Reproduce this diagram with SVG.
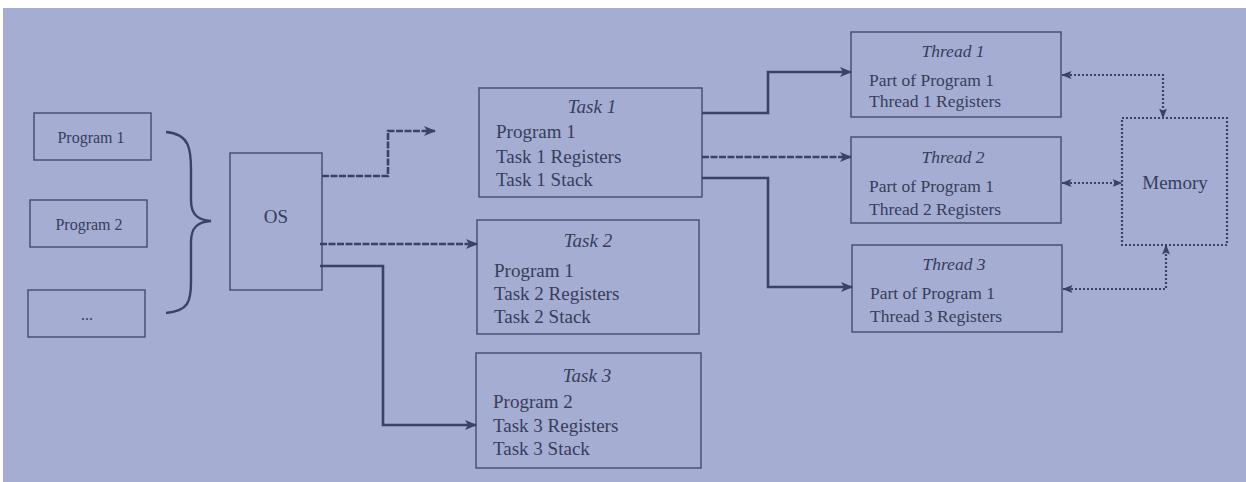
<svg xmlns="http://www.w3.org/2000/svg" width="1246" height="482" viewBox="0 0 1246 482">
<defs>
<style>
.box{fill:none;stroke:#434a6e;stroke-width:1.4}
.t{font-family:"Liberation Serif","Times New Roman",serif;fill:#383d5c;font-size:19px}
.ti{font-style:italic;text-anchor:middle}
.small{font-size:16px}
.th{font-size:17.5px}
.c{fill:none;stroke:#3c4267;stroke-width:2.6}
.d{stroke-dasharray:7 1.5}
.dot{fill:none;stroke:#3c4267;stroke-width:2.2;stroke-dasharray:2 2}
</style>
<marker id="ah" viewBox="0 0 12 10" refX="11" refY="5" markerWidth="12" markerHeight="10" markerUnits="userSpaceOnUse" orient="auto">
<path d="M0,0 L12,5 L0,10 L3,5 Z" fill="#3c4267"/>
</marker>
<marker id="ahs" viewBox="0 0 10 8" refX="9.5" refY="4" markerWidth="10" markerHeight="8" markerUnits="userSpaceOnUse" orient="auto-start-reverse">
<path d="M0,0 L10,4 L0,8 L2,4 Z" fill="#3c4267"/>
</marker>
</defs>
<rect x="0" y="0" width="1246" height="482" fill="#ffffff"/>
<rect x="3" y="8" width="1243" height="474" fill="#a5add2"/>

<g id="program1"><rect class="box" x="34" y="113" width="117" height="47"/><text class="t small" x="91" y="143" text-anchor="middle">Program 1</text></g>
<g id="program2"><rect class="box" x="30" y="200" width="117" height="47"/><text class="t small" x="89" y="230" text-anchor="middle">Program 2</text></g>
<g id="program3"><rect class="box" x="28" y="290" width="117" height="47"/><text class="t small" x="87" y="320" text-anchor="middle">...</text></g>
<g id="brace"><path d="M166,132 C190,134 191,150 191,170 L191,200 C191,215 198,220 211,221 C198,222 191,227 191,242 L191,282 C191,302 188,311 166,313" fill="none" stroke="#3c4267" stroke-width="2.4"/></g>

<g id="os"><rect class="box" x="230" y="153" width="92" height="137"/><text class="t" x="276" y="223" text-anchor="middle" font-size="22">OS</text></g>

<g id="task1"><rect class="box" x="479" y="88" width="223" height="109"/>
<text class="t ti" x="592" y="113">Task 1</text>
<text class="t" x="496" y="138">Program 1</text>
<text class="t" x="496" y="163">Task 1 Registers</text>
<text class="t" x="496" y="186">Task 1 Stack</text></g>
<g id="task2"><rect class="box" x="477" y="220" width="222" height="114"/>
<text class="t ti" x="588" y="247">Task 2</text>
<text class="t" x="494" y="277">Program 1</text>
<text class="t" x="494" y="300">Task 2 Registers</text>
<text class="t" x="494" y="323">Task 2 Stack</text></g>
<g id="task3"><rect class="box" x="476" y="353" width="225" height="115"/>
<text class="t ti" x="587" y="382">Task 3</text>
<text class="t" x="493" y="408">Program 2</text>
<text class="t" x="493" y="432">Task 3 Registers</text>
<text class="t" x="493" y="455">Task 3 Stack</text></g>

<g id="thread1"><rect class="box" x="851" y="32" width="210" height="85"/>
<text class="t ti th" x="953" y="57">Thread 1</text>
<text class="t th" x="869" y="86">Part of Program 1</text>
<text class="t th" x="869" y="107">Thread 1 Registers</text></g>
<g id="thread2"><rect class="box" x="851" y="137" width="210" height="86"/>
<text class="t ti th" x="953" y="163">Thread 2</text>
<text class="t th" x="869" y="192">Part of Program 1</text>
<text class="t th" x="869" y="215">Thread 2 Registers</text></g>
<g id="thread3"><rect class="box" x="852" y="245" width="210" height="87"/>
<text class="t ti th" x="954" y="270">Thread 3</text>
<text class="t th" x="870" y="299">Part of Program 1</text>
<text class="t th" x="870" y="322">Thread 3 Registers</text></g>

<g id="memory"><rect class="dot" x="1122" y="118" width="105" height="127"/>
<text class="t" x="1175" y="189" text-anchor="middle" font-size="17">Memory</text></g>

<g id="connectors">
<path class="c d" d="M322,176 H388 V131 H435" marker-end="url(#ah)"/>
<path class="c d" d="M320,244 H477" marker-end="url(#ah)"/>
<path class="c" d="M320,266 H383 V425 H476" marker-end="url(#ah)"/>
<path class="c" d="M702,113 H768 V72 H851" marker-end="url(#ah)"/>
<path class="c d" d="M702,157 H851" marker-end="url(#ah)"/>
<path class="c" d="M702,178 H768 V287 H852" marker-end="url(#ah)"/>
<path class="dot" d="M1062,75 H1163 V118" marker-start="url(#ahs)" marker-end="url(#ahs)"/>
<path class="dot" d="M1062,183 H1122" marker-start="url(#ahs)" marker-end="url(#ahs)"/>
<path class="dot" d="M1063,289 H1166 V245" marker-start="url(#ahs)" marker-end="url(#ahs)"/>
</g>
</svg>
